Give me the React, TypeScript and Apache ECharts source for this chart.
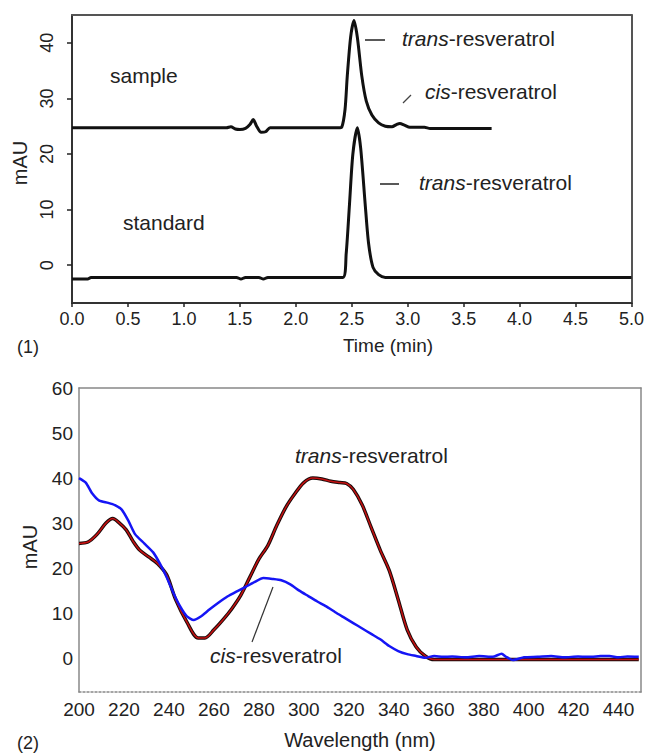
import React, { useEffect, useRef } from "react";
import * as echarts from "echarts";

// ---- Panel (1): HPLC chromatograms ----
const sampleTime = [0, 0.5, 1.0, 1.38, 1.42, 1.46, 1.5, 1.55, 1.59, 1.62, 1.65, 1.69, 1.73, 1.77, 2.0, 2.38, 2.41, 2.44, 2.46, 2.49, 2.52, 2.55, 2.59, 2.63, 2.68, 2.74, 2.80, 2.86, 2.90, 2.93, 2.97, 3.02, 3.15, 3.2, 3.5, 3.75];
const sampleMAU = [24.7, 24.7, 24.7, 24.7, 24.9, 24.5, 24.4, 24.6, 25.3, 26.2, 25.0, 23.9, 24.0, 24.7, 24.7, 24.7, 24.8, 28, 34, 41, 44, 41, 34, 29.5, 27, 25.6, 25.0, 24.9, 25.3, 25.5, 25.2, 24.8, 24.8, 24.6, 24.6, 24.6];

const standardTime = [0, 0.14, 0.17, 0.5, 1.0, 1.47, 1.51, 1.55, 1.67, 1.71, 1.75, 2.0, 2.42, 2.45, 2.48, 2.51, 2.55, 2.58, 2.62, 2.65, 2.69, 2.74, 2.80, 3.0, 4.0, 5.0];
const standardMAU = [-2.5, -2.5, -2.2, -2.2, -2.2, -2.2, -2.5, -2.2, -2.2, -2.5, -2.2, -2.2, -2.2, 2, 11, 20, 24.7, 21, 11, 4, -0.4, -1.7, -2.2, -2.2, -2.2, -2.2];

const mauTicks1 = [0, 10, 20, 30, 40];

// ---- Panel (2): UV spectra ----
const transNm = [200, 204, 208, 212, 215, 218, 221, 224, 227, 231, 235, 239, 243, 248, 253, 256, 260, 264, 268, 272, 276, 280, 284, 288, 292, 296, 300, 304, 308, 312, 316, 319, 322, 326, 330, 334, 338, 342, 346, 350, 354, 358, 370, 400, 430, 449];
const transMAU = [25.5, 25.8, 27.5, 30, 31, 30, 28.5, 26, 24, 22.5, 21, 18.5, 13, 8, 4.5, 4.5, 6.3, 8.5, 11, 14, 18, 22, 25, 29.5, 33.5, 36.5, 39, 40, 39.8, 39.3, 39, 38.8, 37.5, 34, 29, 24, 19.5, 13, 6.3, 2.5, 0.5, -0.3, -0.3, -0.3, -0.3, -0.3];

const cisNm = [200, 203, 206, 209, 213, 216, 219, 222, 225, 229, 233, 236, 239, 242, 245, 248, 251, 254, 258, 262, 266, 270, 274, 278, 282, 286, 290, 294, 298, 302, 306, 310, 314, 318, 322, 326, 330, 334, 338, 342, 346, 350, 354, 358, 362, 366, 372, 378, 384, 388, 390, 393, 398, 404, 410, 416, 422, 428, 432, 436, 440, 444, 449];
const cisMAU = [40, 39, 36.5, 35, 34.5, 34, 33, 30.5, 27.5, 25.5, 23.5, 21, 18, 14.5, 11.5, 9.3, 8.5, 9.2, 10.8, 12.3, 13.7, 14.8, 15.8, 16.9, 17.8, 17.6, 17.3, 16.4, 15, 13.8, 12.6, 11.5, 10.2, 9, 7.8, 6.6, 5.4, 4.2, 2.7, 1.6, 0.9, 0.5, 0.1, 0.5, 0.3, 0.4, 0.2, 0.5, 0.3, 1.0, 0.3, -0.4, 0.2, 0.3, 0.5, 0.2, 0.4, 0.3, 0.5, 0.5, 0.2, 0.4, 0.3];

const nmTicks = [200, 220, 240, 260, 280, 300, 320, 340, 360, 380, 400, 420, 440];
const mauTicks2 = [0, 10, 20, 30, 40, 50, 60];

const zip = (xs: number[], ys: number[]) => xs.map((x, i) => [x, ys[i]]);

const FONT = "Liberation Sans, Arial, Helvetica, sans-serif";
const TXT = "#222";

export default function App() {
  const ref = useRef<HTMLDivElement>(null);

  useEffect(() => {
    if (!ref.current) return;
    const chart = echarts.init(ref.current, null, { renderer: "svg" });

    const italicRich = { i: { fontStyle: "italic", fontSize: 21, fontFamily: FONT, fill: TXT } };
    const label = (x: number, y: number, text: string, size = 21, extra: any = {}) => ({
      type: "text",
      x,
      y,
      style: {
        text,
        fontSize: size,
        fontFamily: FONT,
        fill: TXT,
        align: "left",
        verticalAlign: "middle",
        rich: italicRich,
        ...extra,
      },
    });
    const vText = (x: number, y: number, text: string, size: number) => ({
      type: "text",
      x,
      y,
      rotation: Math.PI / 2,
      style: { text, fontSize: size, fontFamily: FONT, fill: TXT, align: "center", verticalAlign: "middle" },
    });

    const frameAxis = (gridIndex: number, position: string, min: number, max: number, color: string, width: number) => ({
      type: "value",
      gridIndex,
      position,
      min,
      max,
      axisLine: { show: true, onZero: false, lineStyle: { color, width } },
      axisTick: { show: false },
      axisLabel: { show: false },
      splitLine: { show: false },
    });

    chart.setOption({
      animation: false,
      backgroundColor: "#fff",
      grid: [
        { left: 72, top: 15, width: 560, height: 288, show: false },
        { left: 79, top: 388, width: 562, height: 304, show: false },
      ],
      xAxis: [
        {
          type: "value",
          gridIndex: 0,
          min: 0,
          max: 5,
          interval: 0.5,
          axisLine: { show: true, onZero: false, lineStyle: { color: "#333", width: 2 } },
          axisTick: { show: true, length: 4, lineStyle: { color: "#222", width: 1.5 } },
          axisLabel: {
            formatter: (v: number) => v.toFixed(1),
            fontSize: 18,
            fontFamily: FONT,
            color: TXT,
            margin: 7,
          },
          splitLine: { show: false },
        },
        frameAxis(0, "top", 0, 5, "#555", 2),
        {
          type: "value",
          gridIndex: 1,
          min: 200,
          max: 450,
          axisLine: { show: true, onZero: false, lineStyle: { color: "#888", width: 1.5, type: [2, 2] } },
          axisTick: { show: false },
          axisLabel: {
            customValues: nmTicks,
            fontSize: 19,
            fontFamily: FONT,
            color: TXT,
            margin: 8,
          },
          splitLine: { show: false },
        },
        frameAxis(1, "top", 200, 450, "#888", 1.5),
      ],
      yAxis: [
        {
          type: "value",
          gridIndex: 0,
          min: -6.8,
          max: 45,
          axisLine: { show: true, onZero: false, lineStyle: { color: "#333", width: 2 } },
          axisTick: { show: true, length: 5, lineStyle: { color: "#222", width: 1.5 }, customValues: mauTicks1 },
          axisLabel: {
            customValues: mauTicks1,
            rotate: 90,
            fontSize: 18,
            fontFamily: FONT,
            color: TXT,
            margin: 16,
          },
          splitLine: { show: false },
        },
        frameAxis(0, "right", -6.8, 45, "#555", 2),
        {
          type: "value",
          gridIndex: 1,
          min: -7.5,
          max: 60,
          axisLine: { show: true, onZero: false, lineStyle: { color: "#888", width: 1.5 } },
          axisTick: { show: false },
          axisLabel: {
            customValues: mauTicks2,
            fontSize: 19,
            fontFamily: FONT,
            color: TXT,
            margin: 6,
          },
          splitLine: { show: false },
        },
        frameAxis(1, "right", -7.5, 60, "#888", 1.5),
      ],
      series: [
        {
          name: "sample",
          type: "line",
          xAxisIndex: 0,
          yAxisIndex: 0,
          data: zip(sampleTime, sampleMAU),
          showSymbol: false,
          smooth: 0.25,
          lineStyle: { color: "#111", width: 3 },
        },
        {
          name: "standard",
          type: "line",
          xAxisIndex: 0,
          yAxisIndex: 0,
          data: zip(standardTime, standardMAU),
          showSymbol: false,
          smooth: 0.25,
          lineStyle: { color: "#111", width: 3 },
        },
        {
          name: "trans-resveratrol (outline)",
          type: "line",
          xAxisIndex: 2,
          yAxisIndex: 2,
          data: zip(transNm, transMAU),
          showSymbol: false,
          smooth: 0.3,
          lineStyle: { color: "#1a0a0a", width: 3.5 },
        },
        {
          name: "trans-resveratrol",
          type: "line",
          xAxisIndex: 2,
          yAxisIndex: 2,
          data: zip(transNm, transMAU),
          showSymbol: false,
          smooth: 0.3,
          lineStyle: { color: "#c41010", width: 1.5 },
        },
        {
          name: "cis-resveratrol",
          type: "line",
          xAxisIndex: 2,
          yAxisIndex: 2,
          data: zip(cisNm, cisMAU),
          showSymbol: false,
          smooth: 0.2,
          lineStyle: { color: "#1515f5", width: 2.5 },
        },
      ],
      graphic: [
        // panel 1
        label(110, 75, "sample"),
        label(123, 222, "standard"),
        { type: "line", shape: { x1: 365, y1: 40, x2: 385, y2: 40 }, style: { stroke: "#222", lineWidth: 1.5 } },
        label(402, 38, "{i|trans}-resveratrol"),
        { type: "line", shape: { x1: 403, y1: 103, x2: 411, y2: 95 }, style: { stroke: "#444", lineWidth: 1.2 } },
        label(425, 91, "{i|cis}-resveratrol"),
        { type: "line", shape: { x1: 380, y1: 184, x2: 399, y2: 184 }, style: { stroke: "#222", lineWidth: 1.5 } },
        label(419, 182, "{i|trans}-resveratrol"),
        vText(20, 163, "mAU", 20),
        label(388, 345, "Time (min)", 19, { align: "center" }),
        label(17, 347, "(1)", 18),
        // panel 2
        label(295, 455, "{i|trans}-resveratrol"),
        { type: "line", shape: { x1: 252, y1: 642, x2: 273, y2: 587 }, style: { stroke: "#333", lineWidth: 1.2 } },
        label(210, 655, "{i|cis}-resveratrol"),
        vText(30, 547, "mAU", 20),
        label(360, 740, "Wavelength (nm)", 20, { align: "center" }),
        label(17, 743, "(2)", 18),
      ],
    });

    return () => chart.dispose();
  }, []);

  return (
    <div
      ref={ref}
      style={{ position: "fixed", left: 0, top: 0, width: 647, height: 755, background: "#fff" }}
    />
  );
}
